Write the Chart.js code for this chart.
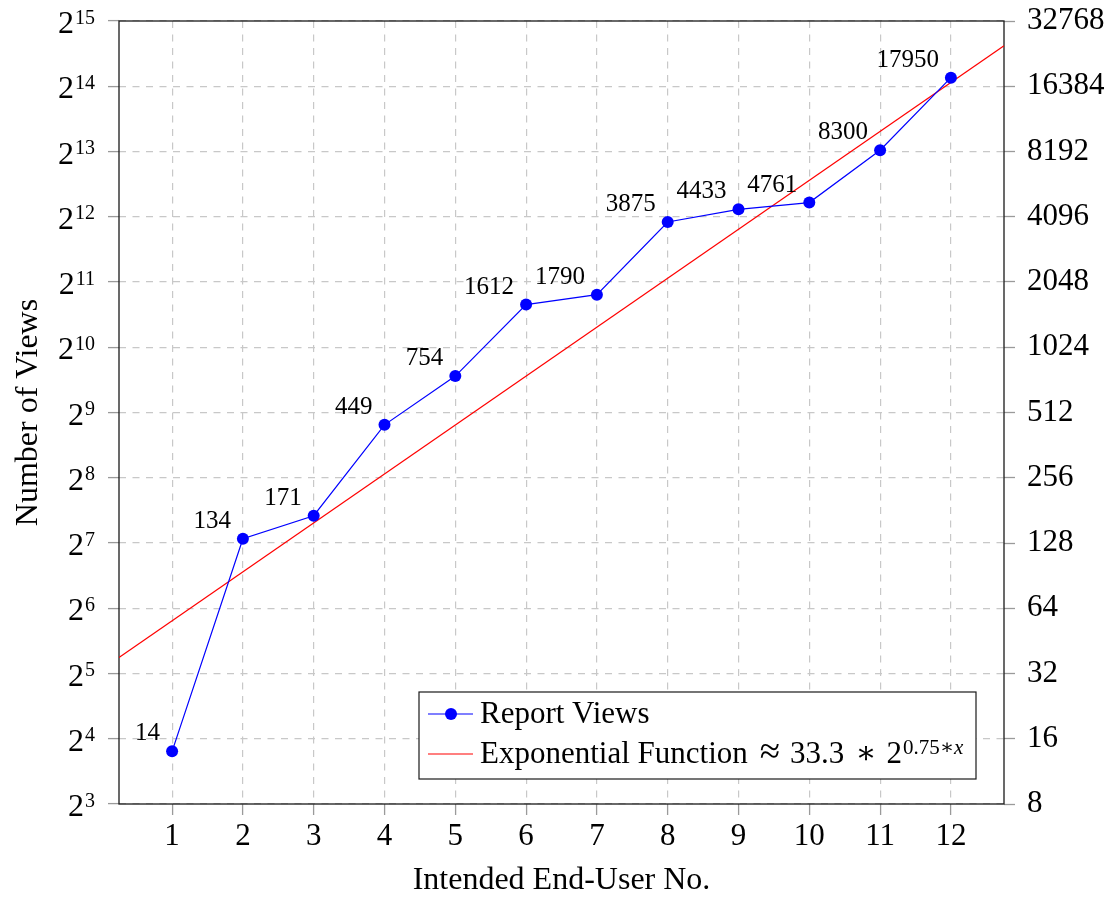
<!DOCTYPE html>
<html>
<head>
<meta charset="utf-8">
<script src="https://cdn.jsdelivr.net/npm/chart.js@4.4.0/dist/chart.umd.min.js"></script>
<style>
  html, body { margin: 0; padding: 0; background: #fff; }
  #views { display: block; }
</style>
</head>
<body>
<canvas id="views" width="1119" height="897"></canvas>
<script>
// report views per intended end user
const userNo = [1, 2, 3, 4, 5, 6, 7, 8, 9, 10, 11, 12];
const reportViews = [14, 134, 171, 449, 754, 1612, 1790, 3875, 4433, 4761, 8300, 17950];

// fitted curve: views ~ fitFactor * 2^(fitRate * x)
const fitFactor = 33.3;
const fitRate = 0.75;
const xRange = [0.25, 12.75];

// powers of two shown on both y axes
const yExponents = [3, 4, 5, 6, 7, 8, 9, 10, 11, 12, 13, 14, 15];
const yTickValues = yExponents.map((e) => Math.pow(2, e));

const serif = "'Liberation Serif', 'DejaVu Serif', serif";
const gridDash = [7, 6.5];

const viewPoints = userNo.map((x, i) => ({ x, y: reportViews[i] }));
// straight on a log axis, so the two ends are enough
const fitLine = xRange.map((x) => ({ x, y: fitFactor * Math.pow(2, fitRate * x) }));

// fixed axis sizes, no extra room for overhanging labels
const fixSize = (w, h) => (s) => {
  if (w) s.width = w;
  if (h) s.height = h;
  s.paddingTop = 0;
  s.paddingBottom = 0;
  s.paddingLeft = 0;
  s.paddingRight = 0;
};

// black box round the plot
const frame = {
  id: 'frame',
  beforeDatasetsDraw(chart) {
    const { ctx, chartArea: a } = chart;
    ctx.save();
    ctx.strokeStyle = '#1a1a1a';
    ctx.lineWidth = 1.3;
    ctx.strokeRect(a.left, a.top, a.right - a.left, a.bottom - a.top);
    ctx.restore();
  }
};

// left axis labels written as 2 with a raised exponent
const powerLabels = {
  id: 'powerLabels',
  afterDraw(chart) {
    const { ctx } = chart;
    const scale = chart.scales.y;
    const right = 95;
    ctx.save();
    ctx.fillStyle = '#000';
    ctx.textAlign = 'left';
    ctx.textBaseline = 'alphabetic';
    yExponents.forEach((e) => {
      const y = scale.getPixelForValue(Math.pow(2, e));
      ctx.font = '20px ' + serif;
      const ew = ctx.measureText(String(e)).width;
      ctx.fillText(String(e), right - ew, y + 2.5);
      ctx.font = '32px ' + serif;
      const bw = ctx.measureText('2').width;
      ctx.fillText('2', right - ew - bw - 1, y + 12);
    });
    ctx.restore();
  }
};

// value written above-left of each view marker
const pointLabels = {
  id: 'pointLabels',
  afterDatasetsDraw(chart) {
    const { ctx } = chart;
    const meta = chart.getDatasetMeta(0);
    ctx.save();
    ctx.font = '25px ' + serif;
    ctx.fillStyle = '#000';
    ctx.textAlign = 'right';
    ctx.textBaseline = 'alphabetic';
    meta.data.forEach((pt, i) => {
      ctx.fillText(String(reportViews[i]), pt.x - 12, pt.y - 11);
    });
    ctx.restore();
  }
};

// legend box in the lower right corner
const fitLegend = {
  id: 'fitLegend',
  afterDatasetsDraw(chart) {
    const { ctx } = chart;
    const box = { x: 419, y: 692, w: 557, h: 87 };
    ctx.save();
    ctx.fillStyle = '#fff';
    ctx.fillRect(box.x, box.y, box.w, box.h);
    ctx.strokeStyle = '#1a1a1a';
    ctx.lineWidth = 1.2;
    ctx.strokeRect(box.x, box.y, box.w, box.h);

    // sample marks
    ctx.lineWidth = 1.2;
    ctx.strokeStyle = '#0000ff';
    ctx.beginPath();
    ctx.moveTo(428, 714);
    ctx.lineTo(473, 714);
    ctx.stroke();
    ctx.fillStyle = '#0000ff';
    ctx.beginPath();
    ctx.arc(451, 714, 6, 0, Math.PI * 2);
    ctx.fill();
    ctx.strokeStyle = '#ff0000';
    ctx.beginPath();
    ctx.moveTo(428, 754);
    ctx.lineTo(473, 754);
    ctx.stroke();

    // texts
    ctx.fillStyle = '#000';
    ctx.textAlign = 'left';
    ctx.textBaseline = 'alphabetic';
    ctx.font = '31px ' + serif;
    ctx.fillText(chart.data.datasets[0].label, 480, 723);

    let x = 480;
    const base = 763;
    const put = (text, font, y, gap) => {
      ctx.font = font;
      ctx.fillText(text, x, y);
      x += ctx.measureText(text).width + (gap || 0);
    };
    put(chart.data.datasets[1].label, '31px ' + serif, base, 12);
    put('\u2248', '37px ' + serif, base, 10);
    put(String(fitFactor), '31px ' + serif, base, 11);
    put('\u2217', '31px ' + serif, base, 10);
    put('2', '31px ' + serif, base, 1);
    put(String(fitRate) + '\u2217', '21px ' + serif, base - 9, 0);
    put('x', 'italic 21px ' + serif, base - 9, 0);
    ctx.restore();
  }
};

const tickFont = { family: serif, size: 31 };

const config = {
  type: 'line',
  data: {
    datasets: [
      {
        label: 'Report Views',
        data: viewPoints,
        borderColor: '#0000ff',
        backgroundColor: '#0000ff',
        borderWidth: 1.2,
        pointRadius: 6,
        pointHoverRadius: 6,
        pointBorderWidth: 0,
        tension: 0,
        yAxisID: 'y'
      },
      {
        label: 'Exponential Function',
        data: fitLine,
        borderColor: '#ff0000',
        backgroundColor: '#ff0000',
        borderWidth: 1.2,
        pointRadius: 0,
        tension: 0,
        yAxisID: 'y'
      }
    ]
  },
  options: {
    responsive: false,
    animation: false,
    events: [],
    layout: { autoPadding: false, padding: { top: 21, left: 0, right: 0, bottom: 0 } },
    plugins: {
      legend: { display: false },
      tooltip: { enabled: false }
    },
    scales: {
      x: {
        type: 'linear',
        position: 'bottom',
        min: xRange[0],
        max: xRange[1],
        afterBuildTicks: (s) => { s.ticks = userNo.map((v) => ({ value: v })); },
        afterFit: fixSize(0, 93),
        ticks: { font: tickFont, color: '#000', padding: 3, maxRotation: 0, autoSkip: false },
        grid: { color: '#c8c8c8', lineWidth: 1.2, tickLength: 11, tickColor: '#9a9a9a', tickWidth: 1.3 },
        border: { display: false, dash: gridDash },
        title: {
          display: true,
          text: 'Intended End-User No.',
          font: { family: serif, size: 32 },
          color: '#000',
          padding: { top: 0, bottom: -3 }
        }
      },
      y: {
        type: 'logarithmic',
        position: 'left',
        min: 8,
        max: 32768,
        afterBuildTicks: (s) => { s.ticks = yTickValues.map((v) => ({ value: v })); },
        afterFit: fixSize(119, 0),
        ticks: { display: false },
        grid: { color: '#c8c8c8', lineWidth: 1.2, tickLength: 11, tickColor: '#9a9a9a', tickWidth: 1.3 },
        border: { display: false, dash: gridDash },
        title: {
          display: true,
          text: 'Number of Views',
          font: { family: serif, size: 32 },
          color: '#000',
          padding: { top: 9, bottom: 0 }
        }
      },
      y2: {
        type: 'logarithmic',
        position: 'right',
        min: 8,
        max: 32768,
        afterBuildTicks: (s) => { s.ticks = yTickValues.map((v) => ({ value: v })); },
        afterFit: fixSize(115, 0),
        ticks: { font: tickFont, color: '#000', padding: 12, callback: (v) => String(v) },
        grid: { drawOnChartArea: false, tickLength: 11, tickColor: '#9a9a9a', tickWidth: 1.3 },
        border: { display: false }
      }
    }
  },
  plugins: [frame, powerLabels, pointLabels, fitLegend]
};

const canvas = document.getElementById('views');
const viewsChart = new Chart(canvas, config);
</script>
</body>
</html>
